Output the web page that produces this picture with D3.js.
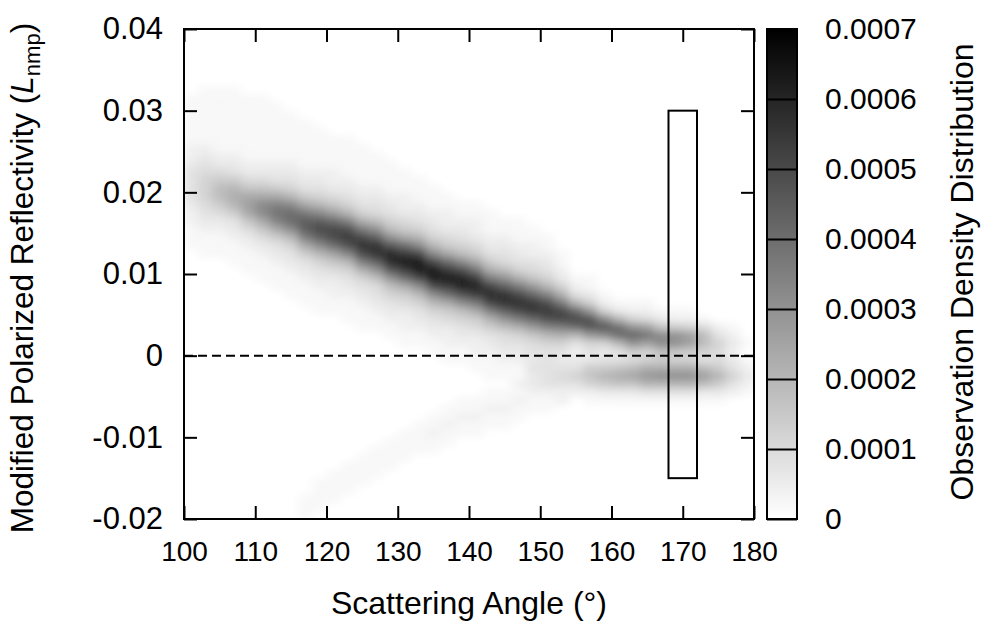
<!DOCTYPE html>
<html>
<head>
<meta charset="utf-8">
<script src="https://cdn.jsdelivr.net/npm/d3@7/dist/d3.min.js"></script>
<style>
  body { margin: 0; background: #ffffff; }
  text { font-family: "Liberation Sans", Arial, Helvetica, sans-serif; fill: #000; }
</style>
</head>
<body>
<svg id="chart" width="981" height="623"></svg>
<script>
// ---------------- data ----------------
// Scattering-angle bin centres (2 degree bins)
const angleCenters = [101,103,105,107,109,111,113,115,117,119,121,123,125,127,129,131,133,135,137,139,
                      141,143,145,147,149,151,153,155,157,159,161,163,165,167,169,171,173,175,177,179];
const angleBinWidth = 2;
// Reflectivity bins: row 0 is [0.039, 0.040), each row 0.001 lower
const reflTop = 0.04;
const reflBinHeight = 0.001;
// first non-empty row of each angle column
const startRow = [8,7,7,7,8,8,9,10,11,12,13,13,14,15,16,17,18,19,20,21,
                  21,22,23,23,24,25,27,30,30,32,33,33,33,34,34,34,35,36,36,38];
// density levels per column, one base-36 character per row (level * 0.00002)
const densityLevels = [
  "1111112234444322111",
  "111111123456665432111",
  "111111112357997532111",
  "111111112347aba7432111",
  "111111112358cdc8532111",
  "111111112358cggc8532111",
  "11111112347chjhc7432111",
  "1111112346agkkga6432111",
  "1111112347cimmic7432111" + "00000000000000000000000" + "111",
  "111112346agmpmga6432111" + "00000000000000000000" + "1111",
  "111122358dkppkd8532211" + "0000000000000000000" + "1111",
  "111112346ahoroha6432111" + "00000000000000000" + "1111",
  "111112346bipspib6432111" + "000000000000000" + "1111",
  "111123459fmssmf9543211" + "00000000000000" + "1111",
  "111123469fnttnf9643211" + "000000000000" + "1111",
  "11122357ckrvrkc7532211" + "0000000000" + "1111",
  "1112346agpvvpga643211" + "000000000" + "1111",
  "1112346agpvvpga643211" + "0000000" + "11211",
  "1122357ckrvrkc7532211" + "00000" + "11211",
  "1123469gouuog9643211" + "0000" + "11211",
  "1122357cjrurjc7532211" + "000" + "11211",
  "1112347biqtqib7432111" + "0" + "11211",
  "1123459fmssmf9543211" + "0" + "11211",
  "1112346bipspib643211" + "21211",
  "1122458elrrle854" + "3433211",
  "112346ahoroha64" + "4444211",
  "11236bippib6" + "4345422",
  "124akpka4234642",
  "1136enne64378621",
  "126gng6347a731",
  "13akka448b831",
  "126flf759c831",
  "125djd66bea41",
  "138gg97bfa41",
  "127ff86bfa41",
  "126dd76bfa41",
  "1599649d931",
  "246557a731",
  "123234642",
  "1012321"
];
const levelUnit = 0.00002;

const xTicks = [100,110,120,130,140,150,160,170,180];
const yTicks = [-0.02,-0.01,0,0.01,0.02,0.03,0.04];
const cbTicks = [0,0.0001,0.0002,0.0003,0.0004,0.0005,0.0006,0.0007];
const boxAngles = [168,172];
const boxRefl = [-0.015,0.03];
const xTitle = "Scattering Angle (°)";
const cbTitle = "Observation Density Distribution";

// ---------------- layout ----------------
const plot = {left: 184, right: 754, top: 29, bottom: 519};
const cbar = {left: 767, right: 797};
const FS_X = 28, FS_Y = 31, FS_C = 30, FS_T = 32;

const svg = d3.select("#chart");
const x = d3.scaleLinear().domain([100,180]).range([plot.left, plot.right]);
const y = d3.scaleLinear().domain([-0.02,0.04]).range([plot.bottom, plot.top]);
const color = d3.scaleLinear().domain([0,0.0007]).range(["#ffffff","#000000"]).clamp(true);
const cy = d3.scaleLinear().domain([0,0.0007]).range([plot.bottom, plot.top]);

const defs = svg.append("defs");
defs.append("clipPath").attr("id","plotclip")
  .append("rect").attr("x",plot.left).attr("y",plot.top)
  .attr("width",plot.right-plot.left).attr("height",plot.bottom-plot.top);
const blur = defs.append("filter").attr("id","smooth")
  .attr("x","-5%").attr("y","-5%").attr("width","110%").attr("height","110%");
blur.append("feGaussianBlur").attr("stdDeviation","5 3.5");

// build cells
const cells = [];
angleCenters.forEach((a,i)=>{
  const s = densityLevels[i];
  for (let j=0;j<s.length;j++){
    const lv = parseInt(s[j],36);
    if (!lv) continue;
    const r = startRow[i]+j;
    cells.push({a0:a-angleBinWidth/2, a1:a+angleBinWidth/2,
                r0:reflTop - r*reflBinHeight, r1:reflTop-(r+1)*reflBinHeight,
                v: lv*levelUnit});
  }
});

const heat = svg.append("g").attr("clip-path","url(#plotclip)")
  .append("g").attr("filter","url(#smooth)");
heat.selectAll("rect").data(cells).join("rect")
  .attr("x",d=>x(d.a0)).attr("y",d=>y(d.r0))
  .attr("width",d=>x(d.a1)-x(d.a0)+0.4)
  .attr("height",d=>y(d.r1)-y(d.r0)+0.4)
  .attr("fill",d=>color(d.v));

// zero line
svg.append("line")
  .attr("x1",plot.left).attr("x2",plot.right)
  .attr("y1",y(0)).attr("y2",y(0))
  .attr("stroke","#000").attr("stroke-width",2).attr("stroke-dasharray","9,5");

// box
svg.append("rect")
  .attr("x",x(boxAngles[0])).attr("y",y(boxRefl[1]))
  .attr("width",x(boxAngles[1])-x(boxAngles[0]))
  .attr("height",y(boxRefl[0])-y(boxRefl[1]))
  .attr("fill","none").attr("stroke","#000").attr("stroke-width",2);

// axes
const tickLen = 13;
const fmtY = v => v===0 ? "0" : v.toFixed(2);
const gB = svg.append("g").attr("transform",`translate(0,${plot.bottom})`)
  .call(d3.axisBottom(x).tickValues(xTicks).tickSizeInner(-tickLen).tickSizeOuter(0).tickPadding(22));
const gT = svg.append("g").attr("transform",`translate(0,${plot.top})`)
  .call(d3.axisTop(x).tickValues(xTicks).tickSizeInner(-tickLen).tickSizeOuter(0).tickFormat(""));
const gL = svg.append("g").attr("transform",`translate(${plot.left},0)`)
  .call(d3.axisLeft(y).tickValues(yTicks).tickSizeInner(-tickLen).tickSizeOuter(0).tickPadding(21).tickFormat(fmtY));
const gR = svg.append("g").attr("transform",`translate(${plot.right},0)`)
  .call(d3.axisRight(y).tickValues(yTicks).tickSizeInner(-tickLen).tickSizeOuter(0).tickFormat(""));
[gB,gT,gL,gR].forEach(g=>{
  g.select(".domain").remove();
  g.selectAll(".tick line").attr("stroke","#000").attr("stroke-width",2);
  g.selectAll(".tick text").attr("font-family",null).attr("fill","#000");
});
gB.selectAll(".tick text").attr("font-size",FS_X);
gL.selectAll(".tick text").attr("font-size",FS_Y);

// frame
svg.append("rect").attr("x",plot.left).attr("y",plot.top)
  .attr("width",plot.right-plot.left).attr("height",plot.bottom-plot.top)
  .attr("fill","none").attr("stroke","#000").attr("stroke-width",2);

// colour bar
const grad = defs.append("linearGradient").attr("id","cbgrad")
  .attr("x1","0").attr("y1","1").attr("x2","0").attr("y2","0");
grad.append("stop").attr("offset","0%").attr("stop-color",color(0));
grad.append("stop").attr("offset","100%").attr("stop-color",color(0.0007));
svg.append("rect").attr("x",cbar.left).attr("y",plot.top)
  .attr("width",cbar.right-cbar.left).attr("height",plot.bottom-plot.top)
  .attr("fill","url(#cbgrad)");
const gC = svg.append("g").attr("transform",`translate(${cbar.right},0)`)
  .call(d3.axisRight(cy).tickValues(cbTicks).tickSizeInner(-(cbar.right-cbar.left)).tickSizeOuter(0)
        .tickPadding(28).tickFormat(v=>v===0?"0":v.toFixed(4)));
gC.select(".domain").remove();
gC.selectAll(".tick line").attr("stroke","#000").attr("stroke-width",2);
gC.selectAll(".tick text").attr("font-size",FS_C).attr("font-family",null).attr("fill","#000");
svg.append("rect").attr("x",cbar.left).attr("y",plot.top)
  .attr("width",cbar.right-cbar.left).attr("height",plot.bottom-plot.top)
  .attr("fill","none").attr("stroke","#000").attr("stroke-width",2);

// titles
svg.append("text").attr("x",(plot.left+plot.right)/2).attr("y",614)
  .attr("text-anchor","middle").attr("font-size",FS_T).text(xTitle);

const yt = svg.append("text")
  .attr("transform",`translate(33,278) rotate(-90)`)
  .attr("text-anchor","middle").attr("font-size",31.5);
yt.append("tspan").text("Modified Polarized Reflectivity (");
yt.append("tspan").attr("font-style","italic").text("L");
yt.append("tspan").attr("font-size",31.5*0.7).attr("dy",31.5*0.22).text("nmp");
yt.append("tspan").attr("dy",-31.5*0.22).text(")");

svg.append("text")
  .attr("transform",`translate(973,272) rotate(-90)`)
  .attr("text-anchor","middle").attr("font-size",FS_T).text(cbTitle);
</script>
</body>
</html>
